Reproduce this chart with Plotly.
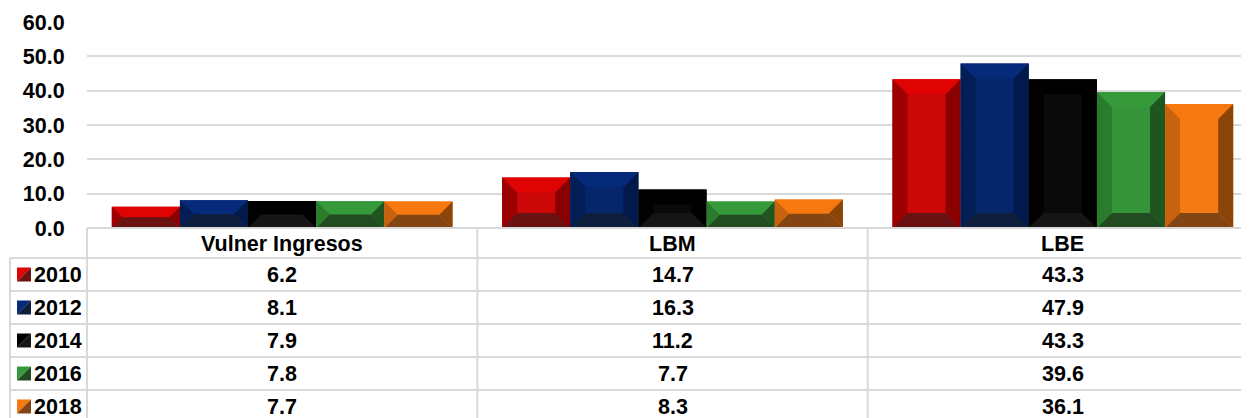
import plotly.graph_objects as go

categories = ["Vulner Ingresos", "LBM", "LBE"]
years = ["2010", "2012", "2014", "2016", "2018"]
values = {
    "2010": [6.2, 14.7, 43.3],
    "2012": [8.1, 16.3, 47.9],
    "2014": [7.9, 11.2, 43.3],
    "2016": [7.8, 7.7, 39.6],
    "2018": [7.7, 8.3, 36.1],
}
y_ticks = [0, 10, 20, 30, 40, 50, 60]

# colour styles per series: face, top, left, right, bottom
styles = {
    "2010": dict(face="#cc0707", top="#e00303", left="#9c0000", right="#880000", bottom="#6a1111"),
    "2012": dict(face="#05266b", top="#062a7a", left="#031d56", right="#021a4b", bottom="#101e3d"),
    "2014": dict(face="#0a0a0a", top="#000000", left="#020202", right="#000000", bottom="#151515"),
    "2016": dict(face="#35933a", top="#36993a", left="#2a7b2c", right="#1f561f", bottom="#234b22"),
    "2018": dict(face="#f47a15", top="#f7780f", left="#c9620e", right="#8b4509", bottom="#844514"),
}

OFF = 8  # page offset of the figure (body margin)
ML, MR, MT = 87 - OFF, 0, 22 - OFF
PW = 1171
PH = 206
W = ML + PW + MR
H = 418 - OFF
MB = H - MT - PH
YMAX = 60
BARGAP = 0.127
FONT = "Liberation Sans, Arial, sans-serif"
FS = 21.5

xpos = list(range(len(categories)))
nser = len(years)
bw = (1 - BARGAP) / nser

fig = go.Figure()
shapes = []
for i, yr in enumerate(years):
    st = styles[yr]
    fig.add_trace(go.Bar(
        x=xpos, y=values[yr], name=yr,
        marker=dict(color=st["face"], line=dict(width=0)),
        showlegend=False,
    ))
    for c, v in zip(xpos, values[yr]):
        x0 = c - (1 - BARGAP) / 2 + i * bw
        x1 = x0 + bw
        hpx = v * PH / YMAX
        wpx = bw * PW / 3
        b = min(15, hpx / 2, wpx / 2)
        bx = b * 3 / PW
        by = b * YMAX / PH
        y0, y1 = 0, v
        polys = {
            "top": [(x0, y1), (x1, y1), (x1 - bx, y1 - by), (x0 + bx, y1 - by)],
            "left": [(x0, y0), (x0, y1), (x0 + bx, y1 - by), (x0 + bx, y0 + by)],
            "right": [(x1, y0), (x1, y1), (x1 - bx, y1 - by), (x1 - bx, y0 + by)],
            "bottom": [(x0, y0), (x1, y0), (x1 - bx, y0 + by), (x0 + bx, y0 + by)],
        }
        for k, pts in polys.items():
            path = "M " + " L ".join(f"{px:.5f},{py:.5f}" for px, py in pts) + " Z"
            shapes.append(dict(type="path", path=path, xref="x", yref="y",
                               fillcolor=st[k], line=dict(width=0), layer="above"))


def py2paper(py):
    # py given in page pixels
    return (MT + PH - (py - OFF)) / PH


def px2paper(px):
    return (px - OFF - ML) / PW


GRID = "#d9d9d9"
row_lines = [258, 291, 324, 357, 390]
shapes.append(dict(type="line", xref="paper", yref="paper", x0=0, x1=1,
                   y0=py2paper(228), y1=py2paper(228), line=dict(color=GRID, width=2)))
for ry in row_lines:
    shapes.append(dict(type="line", xref="paper", yref="paper", x0=px2paper(10), x1=1,
                       y0=py2paper(ry), y1=py2paper(ry), line=dict(color=GRID, width=2)))
shapes.append(dict(type="line", xref="paper", yref="paper", x0=px2paper(10), x1=px2paper(10),
                   y0=py2paper(258), y1=py2paper(440), line=dict(color=GRID, width=2)))
for cx in range(len(categories)):
    shapes.append(dict(type="line", xref="paper", yref="paper", x0=cx / 3, x1=cx / 3,
                       y0=py2paper(228), y1=py2paper(440), line=dict(color=GRID, width=2)))

annotations = []
for c, cat in zip(xpos, categories):
    annotations.append(dict(x=c, xref="x", y=py2paper(244), yref="paper", text=f"<b>{cat}</b>",
                            showarrow=False, font=dict(family=FONT, size=FS, color="black"),
                            xanchor="center", yanchor="middle"))

row_centers = [274.5, 307.5, 340.5, 373.5, 406.5]
for yr, rc in zip(years, row_centers):
    st = styles[yr]
    annotations.append(dict(x=px2paper(32), xref="paper", y=py2paper(rc), yref="paper",
                            text=f"<b>{yr}</b>", showarrow=False,
                            font=dict(family=FONT, size=FS, color="black"),
                            xanchor="left", yanchor="middle"))
    for c, v in zip(xpos, values[yr]):
        annotations.append(dict(x=c, xref="x", y=py2paper(rc), yref="paper",
                                text=f"<b>{v:.1f}</b>", showarrow=False,
                                font=dict(family=FONT, size=FS, color="black"),
                                xanchor="center", yanchor="middle"))
    kx0, kx1 = px2paper(17), px2paper(31)
    ky0, ky1 = py2paper(rc + 7), py2paper(rc - 7)
    shapes.append(dict(type="path", xref="paper", yref="paper",
                       path=f"M {kx0},{ky0} L {kx0},{ky1} L {kx1},{ky1} Z",
                       fillcolor=st["top"], line=dict(width=0)))
    shapes.append(dict(type="path", xref="paper", yref="paper",
                       path=f"M {kx0},{ky0} L {kx1},{ky0} L {kx1},{ky1} Z",
                       fillcolor=st["bottom"], line=dict(width=0)))

fig.update_layout(
    width=W, height=H,
    margin=dict(l=ML, r=MR, t=MT, b=MB, pad=0),
    barmode="group", bargap=BARGAP, bargroupgap=0,
    plot_bgcolor="white", paper_bgcolor="white",
    shapes=shapes, annotations=annotations,
    xaxis=dict(range=[-0.5, 2.5], showticklabels=False, showgrid=False,
               zeroline=False, showline=False, ticks=""),
    yaxis=dict(range=[0, YMAX], tickvals=y_ticks, tickformat=".1f",
               showgrid=True, gridcolor=GRID, gridwidth=2, zeroline=False,
               showline=False, ticks="outside", ticklen=17, tickcolor="rgba(0,0,0,0)",
               tickfont=dict(family=FONT, size=FS, color="black", weight="bold")),
    font=dict(family=FONT),
)

fig.write_html("out.html")
